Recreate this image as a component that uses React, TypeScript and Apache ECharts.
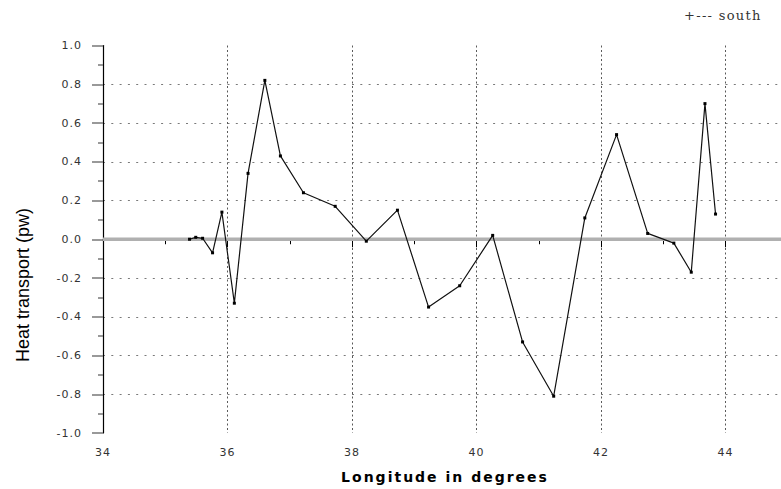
import React, { useEffect, useRef } from "react";
import * as echarts from "echarts";

// Data
const longitude = [
  35.39, 35.49, 35.6, 35.76, 35.91, 36.11, 36.33, 36.6, 36.85, 37.22, 37.73,
  38.23, 38.73, 39.23, 39.73, 40.26, 40.74, 41.24, 41.74, 42.25, 42.75, 43.17,
  43.45, 43.67, 43.84,
];
const heatTransport = [
  0.0, 0.01, 0.005, -0.07, 0.14, -0.33, 0.34, 0.82, 0.43, 0.24, 0.17, -0.01,
  0.15, -0.35, -0.24, 0.02, -0.53, -0.81, 0.11, 0.54, 0.03, -0.02, -0.17, 0.7,
  0.13,
];
const xRange = [34, 46];
const yRange = [-1, 1];
const seriesName = "south";
const xTitle = "Longitude in degrees";
const yTitle = "Heat transport (pw)";
const legendText = "+--- " + seriesName;

export default function App() {
  const ref = useRef<HTMLDivElement>(null);

  useEffect(() => {
    const el = ref.current;
    if (!el) return;
    const chart = echarts.init(el, undefined, { renderer: "svg" });
    const clear = "rgba(0,0,0,0)";
    const grid = "#7a7a7a";
    const vgrid = "#5a5a5a";
    const points = longitude.map((x, i) => [x, heatTransport[i]]);

    chart.setOption({
      animation: false,
      backgroundColor: "#ffffff",
      grid: { left: 103, right: 0, top: 45.5, bottom: 56, containLabel: false },
      xAxis: {
        type: "value",
        min: xRange[0],
        max: xRange[1],
        interval: 2,
        axisLine: { show: true, lineStyle: { color: "#808080", width: 2 } },
        axisTick: { show: true, length: 8, lineStyle: { color: "#000", width: 1 } },
        minorTick: { show: true, splitNumber: 2, length: 5, lineStyle: { color: "#000", width: 1 } },
        axisLabel: {
          margin: 14,
          color: "#333",
          fontSize: 11,
          fontFamily: "DejaVu Sans",
          showMaxLabel: false,
          formatter: (v: number) => String(v),
        },
        splitLine: {
          show: true,
          lineStyle: {
            color: [clear, vgrid, vgrid, vgrid, vgrid, vgrid, vgrid],
            type: [2, 2.5],
            width: 1,
          },
        },
      },
      yAxis: {
        type: "value",
        min: yRange[0],
        max: yRange[1],
        interval: 0.2,
        axisLine: { show: true, onZero: false, lineStyle: { color: "#000", width: 1.2 } },
        axisTick: { show: true, length: 11, lineStyle: { color: "#777", width: 1.5 } },
        minorTick: { show: true, splitNumber: 2, length: 5, lineStyle: { color: "#777", width: 1.5 } },
        axisLabel: {
          margin: 21,
          color: "#333",
          fontSize: 11,
          fontFamily: "DejaVu Sans",
          formatter: (v: number) => (Math.abs(v) < 1e-9 ? "0.0" : v.toFixed(1)),
        },
        splitLine: {
          show: true,
          lineStyle: {
            color: [clear, grid, grid, grid, grid, clear, grid, grid, grid, grid, clear],
            type: [2, 6.3],
            width: 1,
          },
        },
      },
      series: [
        {
          type: "line",
          name: "zero",
          data: [
            [xRange[0], 0],
            [xRange[1], 0],
          ],
          symbol: "none",
          silent: true,
          z: 1,
          lineStyle: { color: "#b0b0b0", width: 3.5 },
        },
        {
          type: "line",
          name: seriesName,
          data: points,
          z: 3,
          symbol: "rect",
          symbolSize: 3,
          showAllSymbol: true,
          itemStyle: { color: "#000" },
          lineStyle: { color: "#111", width: 1.2 },
        },
      ],
      graphic: [
        {
          type: "text",
          x: 684,
          y: 15,
          style: {
            text: legendText,
            font: "13px 'DejaVu Serif'",
            fill: "#333",
            align: "left",
            verticalAlign: "middle",
          },
        },
        {
          type: "text",
          x: 445,
          y: 477,
          style: {
            text: xTitle,
            font: "bold 14px 'DejaVu Sans'",
            fill: "#000",
            align: "center",
            verticalAlign: "middle",
          },
        },
        {
          type: "text",
          x: 23,
          y: 285,
          rotation: Math.PI / 2,
          style: {
            text: yTitle,
            font: "18px 'Liberation Sans'",
            fill: "#000",
            align: "center",
            verticalAlign: "middle",
          },
        },
      ],
    });

    el.querySelectorAll("text").forEach((t) => {
      const s = t.textContent || "";
      if (s === xTitle) t.setAttribute("letter-spacing", "2");
      else if (s === legendText) t.setAttribute("letter-spacing", "1.3");
      else if (/^-?\d/.test(s)) t.setAttribute("letter-spacing", "1");
    });

    return () => chart.dispose();
  }, []);

  return (
    <div
      style={{
        position: "fixed",
        left: 0,
        top: 0,
        width: 781,
        height: 489,
        overflow: "hidden",
        background: "#fff",
      }}
    >
      <div ref={ref} style={{ width: 850, height: 489 }} />
    </div>
  );
}
